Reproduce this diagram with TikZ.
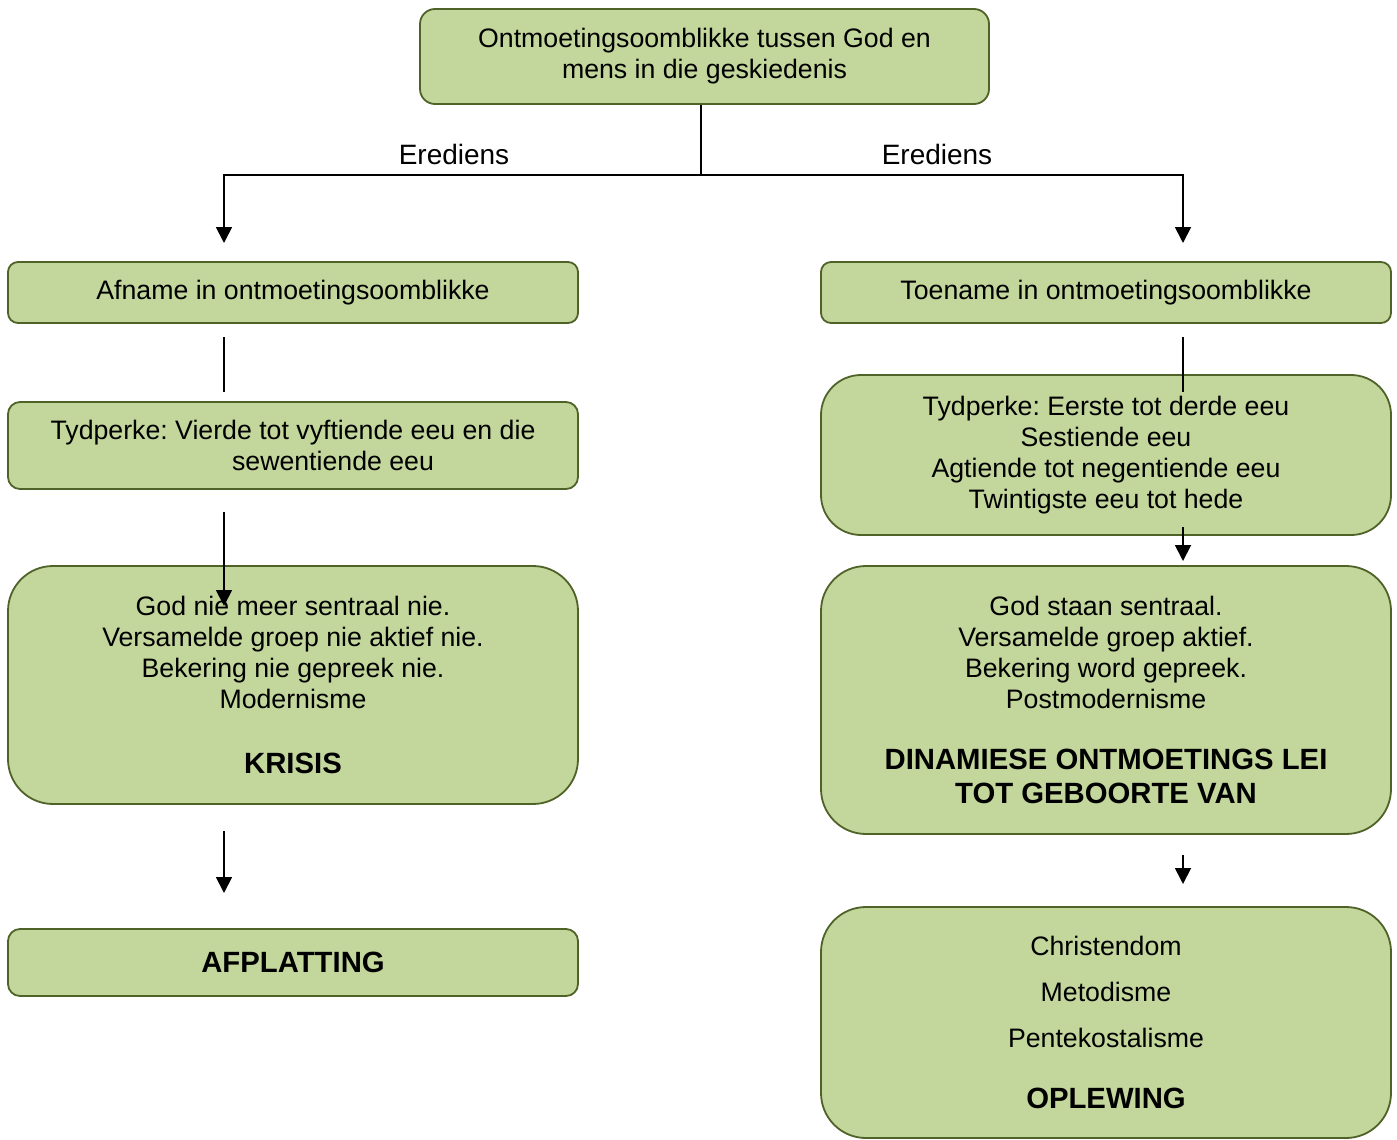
\documentclass[tikz,border=0pt]{standalone}
\usepackage{fontspec}
\setmainfont{Liberation Sans}
\usetikzlibrary{arrows.meta}
\definecolor{boxfill}{HTML}{C3D69B}
\definecolor{boxline}{HTML}{4F6228}
\frenchspacing
\begin{document}
\begin{tikzpicture}[x=1pt,y=-1pt,
  box/.style={draw=boxline, fill=boxfill, line width=1.8pt, align=center, inner sep=0pt,
    font=\fontsize{26.7}{31}\selectfont, minimum width=570},
  conn/.style={line width=1.8pt, draw=black},
  arr/.style={conn, -{Triangle[width=16,length=16]}},
  lbl/.style={font=\fontsize{28}{31}\selectfont, inner sep=0pt}]
\useasboundingbox (0,0) rectangle (1397,1140);

% boxes
\node[box, rounded corners=15, minimum width=569, minimum height=95] (top) at (704.5,56.5)
  {Ontmoetingsoomblikke tussen God en\\mens in die geskiedenis};
\node[box, rounded corners=10, minimum height=61] (afn) at (293,292.5)
  {Afname in ontmoetingsoomblikke};
\node[box, rounded corners=10, minimum height=61] (toen) at (1106,292.5)
  {Toename in ontmoetingsoomblikke};
\node[box, rounded corners=12, minimum height=87] (tydL) at (293,445.5)
  {Tydperke: Vierde tot vyftiende eeu en die\\\hspace*{80pt}sewentiende eeu};
\node[box, rounded corners=40, minimum height=160] (tydR) at (1106,455)
  {Tydperke: Eerste tot derde eeu\\Sestiende eeu\\Agtiende tot negentiende eeu\\Twintigste eeu tot hede};
\node[box, rounded corners=45, minimum height=238] (kris) at (293,685)
  {God nie meer sentraal nie.\\Versamelde groep nie aktief nie.\\Bekering nie gepreek nie.\\Modernisme\\[34pt]{\fontsize{29.3}{35}\selectfont\bfseries KRISIS}};
\node[box, rounded corners=45, minimum height=268] (dina) at (1106,700)
  {God staan sentraal.\\Versamelde groep aktief.\\Bekering word gepreek.\\Postmodernisme\\[30pt]{\fontsize{29.3}{35}\selectfont\bfseries DINAMIESE ONTMOETINGS LEI}\\[3pt]{\fontsize{29.3}{35}\selectfont\bfseries TOT GEBOORTE VAN}};
\node[box, rounded corners=12, minimum height=67] (afpl) at (293,962.5)
  {\fontsize{29.3}{35}\selectfont\bfseries AFPLATTING};
\node[box, rounded corners=45, minimum height=231] (oplw) at (1106,1022.5)
  {Christendom\\[15pt]Metodisme\\[15pt]Pentekostalisme\\[30pt]{\fontsize{29.3}{35}\selectfont\bfseries OPLEWING}};

% connector coordinates
\coordinate (j) at (701,175);
\coordinate (jL) at (224,175);
\coordinate (jR) at (1183,175);
\coordinate (tL) at (224,243);
\coordinate (tR) at (1183,243);
\coordinate (a1s) at (224,337); \coordinate (a1e) at (224,392);
\coordinate (b1s) at (1183,337); \coordinate (b1e) at (1183,392);
\coordinate (a2s) at (224,512); \coordinate (a2e) at (224,606);
\coordinate (b2s) at (1183,527); \coordinate (b2e) at (1183,561);
\coordinate (a3s) at (224,831); \coordinate (a3e) at (224,893);
\coordinate (b3s) at (1183,855); \coordinate (b3e) at (1183,884);

\draw[conn] (top.south -| j) -- (j);
\draw[arr] (j) -- (jL) -- (tL);
\draw[arr] (j) -- (jR) -- (tR);
\node[lbl] (e1) at (454,154) {Erediens};
\node[lbl] (e2) at (937,154) {Erediens};

\draw[conn] (a1s) -- (a1e);
\draw[conn] (b1s) -- (b1e);
\draw[arr] (a2s) -- (a2e);
\draw[arr] (b2s) -- (b2e);
\draw[arr] (a3s) -- (a3e);
\draw[arr] (b3s) -- (b3e);
\end{tikzpicture}
\end{document}
